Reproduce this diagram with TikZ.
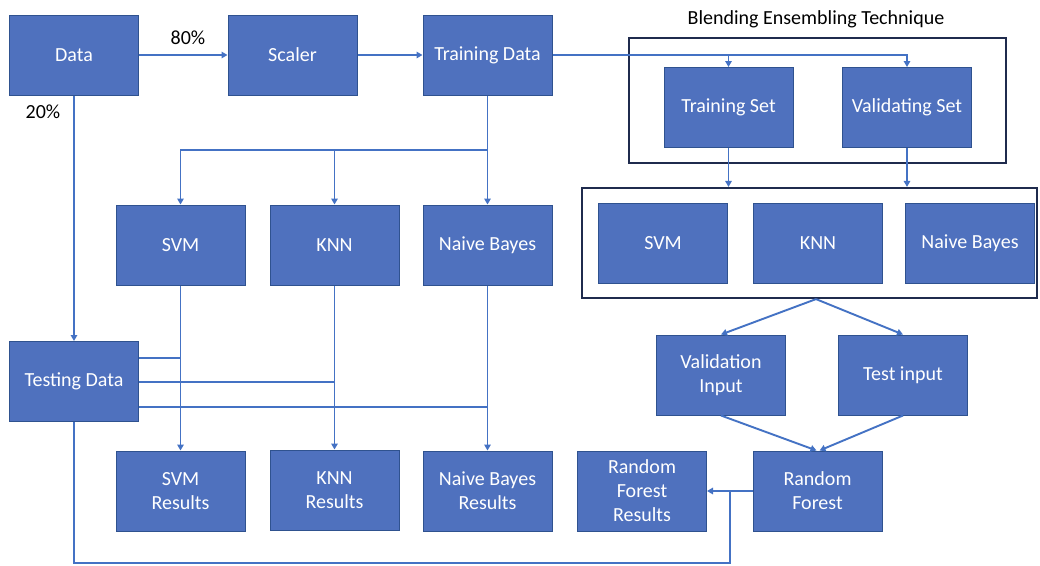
\documentclass[tikz,border=0pt]{standalone}
\usepackage{fontspec}
\setmainfont{Carlito}
\usetikzlibrary{arrows.meta}
\definecolor{boxfill}{HTML}{4F71BE}
\definecolor{boxdraw}{HTML}{2F528F}
\definecolor{connc}{HTML}{4472C4}
\definecolor{framec}{HTML}{1F2B4D}
\begin{document}
\begin{tikzpicture}[x=1pt,y=-1pt,
 box/.style={draw=boxdraw, line width=1pt, fill=boxfill, text=white, minimum width=129pt, minimum height=80pt, align=center, inner sep=2pt, font=\fontsize{20}{24}\selectfont},
 frm/.style={draw=framec, line width=2.2pt, minimum width=#1, inner sep=0pt},
 conn/.style={draw=connc, line width=1.9pt},
 arr/.style={conn, -{Triangle[length=6pt,width=6.5pt]}},
 lbl/.style={text=black, font=\fontsize{20}{24}\selectfont, inner sep=0pt}]
\useasboundingbox (0,0) rectangle (1040,565);
\fill[white] (0,0) rectangle (1040,565);
% frames
\node[frm=377pt, minimum height=125pt] (frame1) at (817.5,100.5) {};
\node[frm=455pt, minimum height=110pt] (frame2) at (809.5,243) {};
\node[lbl] (title) at (816,19) {Blending Ensembling Technique};
% boxes
\node[box] (data) at (74,55) {Data};
\node[box] (scaler) at (292.5,55) {Scaler};
\node[box] (train) at (487.5,55) {Training Data};
\node[box] (svm) at (180.5,245) {SVM};
\node[box] (knn) at (334.5,245) {KNN};
\node[box] (nb) at (487.5,245) {Naive Bayes};
\node[box] (test) at (74,381.5) {Testing Data};
\node[box] (svmr) at (180.5,491) {SVM\\Results};
\node[box] (knnr) at (334.5,490) {KNN\\Results};
\node[box] (nbr) at (487.5,491) {Naive Bayes\\Results};
\node[box] (tset) at (728.5,107.5) {Training Set};
\node[box] (vset) at (907,107.5) {Validating Set};
\node[box] (svm2) at (663,243.5) {SVM};
\node[box] (knn2) at (818,243) {KNN};
\node[box] (nb2) at (970,243.5) {Naive Bayes};
\node[box] (vin) at (721,375) {Validation\\Input};
\node[box] (tin) at (903,375) {Test input};
\node[box] (rf) at (817.5,491) {Random\\Forest};
\node[box] (rfr) at (642,491) {Random\\Forest\\Results};
% labels
\node[lbl] (p80) at (188,38) {80\%};
\node[lbl] (p20) at (43,112) {20\%};
% coordinates
\coordinate (tb) at (487.5,150);
\coordinate (bl) at (74,563);
\coordinate (jn) at (730,491);
% connectors
\draw[arr] (data.east) -- (scaler.west);
\draw[arr] (scaler.east) -- (train.west);
\draw[arr] (train.east) -| (vset.north);
\draw[arr] (tset.north |- train.east) -- (tset.north);
\draw[arr] (train.south) -- (nb.north);
\draw[arr] (tb) -| (svm.north);
\draw[arr] (knn.north |- tb) -- (knn.north);
\draw[arr] (data.south) -- (test.north);
\draw[arr] (svm.south) -- (svmr.north);
\draw[arr] (knn.south) -- (knnr.north);
\draw[arr] (nb.south) -- (nbr.north);
\draw[conn] (test.east |- 0,358) -- (svm.south |- 0,358);
\draw[conn] (test.east |- 0,382) -- (knn.south |- 0,382);
\draw[conn] (test.east |- 0,407) -- (nb.south |- 0,407);
\draw[conn] (test.south) -- (bl) -| (jn);
\draw[arr] (rf.west) -- (rfr.east);
\draw[arr] (tset.south) -- (tset.south |- frame2.north);
\draw[arr] (vset.south) -- (vset.south |- frame2.north);
\draw[arr] ([xshift=6.5pt]frame2.south) -- (vin.north);
\draw[arr] ([xshift=6.5pt]frame2.south) -- (tin.north);
\draw[arr] (vin.south) -- ([xshift=-1pt]rf.north);
\draw[arr] (tin.south) -- ([xshift=2pt]rf.north);
\end{tikzpicture}
\end{document}
